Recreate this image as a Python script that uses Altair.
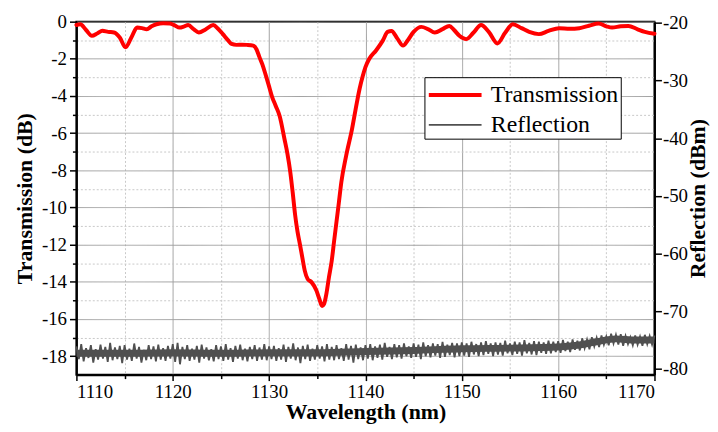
import altair as alt
import pandas as pd

# ---- data ----
trans_wl = [1110.0, 1110.4, 1111.0, 1111.6, 1112.2, 1112.7, 1113.3, 1113.9, 1114.5, 1115.1,
            1115.7, 1116.3, 1116.8, 1117.3, 1117.8, 1118.3, 1119.0, 1119.7, 1120.2, 1120.7,
            1121.2, 1121.6, 1122.2, 1122.7, 1123.4, 1124.2, 1124.7, 1125.2, 1125.7, 1126.1,
            1126.6, 1127.2, 1127.7, 1128.35, 1128.7, 1129.0, 1129.3, 1129.6, 1129.95, 1130.3,
            1130.7, 1131.1, 1131.6, 1131.9, 1132.2, 1132.45, 1132.7, 1132.95, 1133.2, 1133.45,
            1133.7, 1134.0, 1134.4, 1134.9, 1135.2, 1135.5, 1135.7, 1135.95, 1136.2, 1136.5,
            1136.75, 1137.0, 1137.25, 1137.5, 1138.0, 1138.6, 1139.1, 1139.4, 1139.7, 1140.0,
            1140.4, 1141.1, 1141.8, 1142.3, 1142.7, 1143.3, 1143.9, 1144.4, 1145.0, 1145.8,
            1146.5, 1147.2, 1148.0, 1148.7, 1149.2, 1149.75, 1150.45, 1151.2, 1152.0, 1152.8,
            1153.7, 1154.5, 1155.3, 1156.2, 1157.0, 1158.0, 1159.0, 1160.1, 1161.2, 1162.2,
            1163.2, 1164.2, 1165.0, 1165.6, 1166.5, 1167.3, 1168.2, 1169.0, 1170.0]
trans_db = [-0.18, -0.14, -0.45, -0.76, -0.62, -0.49, -0.55, -0.58, -0.85, -1.38,
            -0.85, -0.32, -0.35, -0.41, -0.25, -0.14, -0.08, -0.10, -0.20, -0.32,
            -0.25, -0.18, -0.42, -0.58, -0.42, -0.18, -0.38, -0.67, -0.98, -1.20,
            -1.25, -1.24, -1.25, -1.29, -1.50, -1.91, -2.30, -2.79, -3.40, -4.03,
            -4.55, -5.09, -6.33, -7.10, -8.10, -9.20, -10.40, -11.30, -11.99, -12.70,
            -13.40, -13.85, -14.02, -14.46, -14.90, -15.30, -15.20, -14.64, -13.80, -12.87,
            -11.80, -10.75, -9.70, -8.63, -7.21, -5.80, -4.38, -3.60, -2.97, -2.45,
            -2.00, -1.55, -1.02, -0.55, -0.50, -0.90, -1.29, -1.00, -0.55, -0.28,
            -0.40, -0.58, -0.40, -0.23, -0.45, -0.76, -0.94, -0.60, -0.18, -0.55,
            -1.17, -0.60, -0.14, -0.35, -0.55, -0.67, -0.50, -0.35, -0.38, -0.35,
            -0.22, -0.10, -0.25, -0.32, -0.25, -0.23, -0.40, -0.55, -0.65]

# reflection noise: peaks at 1110, 1110.5, ... 1170 ; troughs at 1110.25, 1110.75, ... 1169.75
refl_upper = [-76.1, -75.7, -76.4, -75.9, -76.6, -75.8, -76.2, -75.5, -76.3, -76.0, -75.9,
              -76.5, -75.6, -76.2, -76.7, -75.9, -76.1, -75.8, -76.4, -76.0, -75.7,
              -75.5, -76.2, -75.9, -76.5, -76.0, -75.8, -76.3, -76.6, -75.9, -76.1,
              -75.7, -76.4, -76.0, -75.8, -76.5, -76.2, -75.9, -76.3, -75.7, -76.1,
              -76.0, -76.4, -75.8, -76.2, -75.6, -76.3, -76.0, -75.8, -76.5, -75.9,
              -76.1, -75.7, -76.2, -75.9, -76.4, -75.7, -76.0, -75.8, -76.3, -75.9,
              -75.7, -76.1, -75.8, -75.5, -76.2, -75.7, -75.9, -75.6, -76.1, -75.6,
              -75.8, -75.4, -75.9, -75.6, -75.7, -75.3, -75.8, -75.5, -75.6, -75.4,
              -75.6, -75.3, -75.7, -75.4, -75.2, -75.6, -75.4, -75.5, -75.1, -75.6,
              -75.3, -75.4, -75.0, -75.5, -75.2, -75.3, -75.4, -75.1, -75.3, -75.2,
              -75.0, -75.3, -74.9, -75.1, -74.7, -74.9, -74.5, -74.6, -74.2, -74.4,
              -73.9, -74.1, -74.0, -74.3, -74.5, -74.2, -74.4, -74.1, -74.3, -74.2]
refl_lower = [-78.3, -78.7, -78.1, -78.9, -78.4, -78.2, -78.8, -78.5, -78.3, -79.0,
              -78.4, -78.6, -78.2, -78.9, -78.5, -78.3, -78.7, -78.4, -78.6, -78.2,
              -78.8, -79.2, -78.3, -78.6, -78.4, -78.9, -78.2, -78.5, -78.7, -78.3,
              -78.6, -78.4, -78.8, -78.2, -78.5, -78.7, -78.3, -78.6, -78.4, -78.5,
              -78.3, -78.6, -78.4, -78.8, -78.2, -78.5, -79.0, -78.3, -78.6, -78.4,
              -78.2, -78.7, -78.4, -78.5, -78.3, -78.6, -78.4, -78.9, -78.3, -78.5,
              -78.2, -78.5, -78.1, -78.4, -77.9, -78.3, -78.0, -78.2, -77.8, -78.1,
              -77.9, -78.3, -77.8, -78.0, -77.7, -78.1, -77.9, -77.6, -78.0, -77.8,
              -77.7, -77.9, -77.5, -77.8, -77.6, -77.4, -77.8, -77.5, -77.7, -77.3,
              -77.6, -77.4, -77.7, -77.3, -77.5, -77.6, -77.2, -77.4, -77.3, -77.1,
              -77.2, -76.9, -77.1, -76.7, -76.8, -76.4, -76.6, -76.1, -76.2, -75.8,
              -75.9, -75.6, -75.8, -76.0, -75.7, -75.9, -75.8, -76.0, -75.7, -75.8]
# dense core of the reflection trace
core_wl = [1110, 1115, 1120, 1125, 1130, 1135, 1140, 1145, 1150, 1155, 1160, 1162, 1164, 1166, 1168, 1170]
core_dbm = [-77.3, -77.3, -77.2, -77.3, -77.2, -77.2, -77.0, -76.8, -76.5, -76.4, -76.2, -75.9, -75.3, -74.8, -75.0, -75.0]

series_names = ["Transmission", "Reflection"]
series_colors = ["#ff0000", "#505050"]
series_widths = [4.0, 1.8]

x_ticks = list(range(1110, 1171, 5))
left_ticks = list(range(0, -19, -1))
right_ticks = list(range(-20, -81, -5))

# ---- tables ----
df_t = pd.DataFrame({"wl": trans_wl, "val": trans_db, "series": "Transmission"})
rows = []
for i, u in enumerate(refl_upper):
    rows.append((1110.0 + 0.5 * i, u))
for i, l in enumerate(refl_lower):
    rows.append((1110.25 + 0.5 * i, l))
rows.sort()
df_r = pd.DataFrame({"wl": [r[0] for r in rows], "val": [r[1] for r in rows], "series": "Reflection"})
df_c = pd.DataFrame({"wl": core_wl, "val": core_dbm})

FONT = "Liberation Serif"

legend_kw = dict(
    title=None, orient="none", legendX=351, legendY=56,
    symbolType="M-1.9,0H1.9", symbolSize=784, symbolOffset=13,
    labelFontSize=24, labelFont=FONT, labelColor="black",
    strokeColor="black", fillColor="white",
    padding=2, rowPadding=3, labelOffset=20, labelLimit=300,
)
color_enc = alt.Color(
    "series:N",
    scale=alt.Scale(domain=series_names, range=series_colors),
    legend=alt.Legend(**legend_kw),
)
width_enc = alt.StrokeWidth(
    "series:N",
    scale=alt.Scale(domain=series_names, range=series_widths),
    legend=alt.Legend(**legend_kw),
)

x_enc = alt.X(
    "wl:Q",
    scale=alt.Scale(domain=[1110, 1170], nice=False, zero=False),
    axis=alt.Axis(
        title="Wavelength (nm)", values=x_ticks,
        labelExpr="datum.value % 10 === 0 ? '' + datum.value : ''",
        labelFont=FONT, labelFontSize=19, labelColor="black",
        grid=True,
        gridColor={"condition": {"test": "datum.value % 10 === 0", "value": "#a0a0a0"}, "value": "#c8c8c8"},
        gridDash={"condition": {"test": "datum.value % 10 === 0", "value": [1, 0]}, "value": [2, 2]},
        tickSize={"condition": {"test": "datum.value % 10 === 0", "value": 6}, "value": 4},
        labelPadding=2, titleBaseline="top", titleY=27,
    ),
)

trans = alt.Chart(df_t).mark_line(strokeJoin="round", strokeCap="round", interpolate="monotone").encode(
    x=x_enc,
    y=alt.Y(
        "val:Q",
        scale=alt.Scale(domain=[-19, 0], nice=False, zero=False),
        axis=alt.Axis(
            title="Transmission (dB)", values=left_ticks, orient="left",
            labelExpr="datum.value % 2 === 0 ? '' + datum.value : ''",
            labelFont=FONT, labelFontSize=19, labelColor="black",
            grid=True,
            gridColor={"condition": {"test": "datum.value % 2 === 0", "value": "#a0a0a0"}, "value": "#c8c8c8"},
            gridDash={"condition": {"test": "datum.value % 2 === 0", "value": [1, 0]}, "value": [2, 2]},
            tickSize={"condition": {"test": "datum.value % 2 === 0", "value": 7}, "value": 4},
            labelPadding=3, titlePadding=5,
        ),
    ),
    color=color_enc,
    strokeWidth=width_enc,
)

refl_scale = alt.Scale(domain=[-81, -19.8], nice=False, zero=False)

core = alt.Chart(df_c).mark_line(color="#505050", strokeWidth=7, interpolate="monotone").encode(
    x=alt.X("wl:Q"),
    y=alt.Y("val:Q", scale=refl_scale, axis=alt.Axis(title="Reflection (dBm)", orient="right")),
)

refl = alt.Chart(df_r).mark_line(strokeJoin="miter").encode(
    x=alt.X("wl:Q"),
    y=alt.Y(
        "val:Q",
        scale=refl_scale,
        axis=alt.Axis(
            title="Reflection (dBm)", values=right_ticks, orient="right",
            labelExpr="datum.value % 10 === 0 ? '' + datum.value : ''",
            labelFont=FONT, labelFontSize=19, labelColor="black",
            grid=False, titleAngle=270, titleBaseline="alphabetic", titleX=50,
            tickSize={"condition": {"test": "datum.value % 10 === 0", "value": 7}, "value": 4},
            labelPadding=1,
        ),
    ),
    color=color_enc,
    strokeWidth=width_enc,
)

refl_group = alt.layer(core, refl)

chart = (
    alt.layer(refl_group, trans)
    .resolve_scale(y="independent")
    .properties(
        width=708, height=416,
        autosize=alt.AutoSizeParams(type="fit", contains="padding"),
        padding={"left": 5, "top": 3, "right": 2, "bottom": 0},
    )
    .configure_view(stroke="black", strokeWidth=2)
    .configure_axis(
        labelFont=FONT, labelFontSize=19, labelColor="black",
        titleFont=FONT, titleFontSize=22, titleFontWeight="bold", titleColor="black",
        domainColor="black", domainWidth=2, tickColor="black", tickWidth=1.5,
    )
)

chart.save("out.html", embed_options={"renderer": "svg", "actions": False})
